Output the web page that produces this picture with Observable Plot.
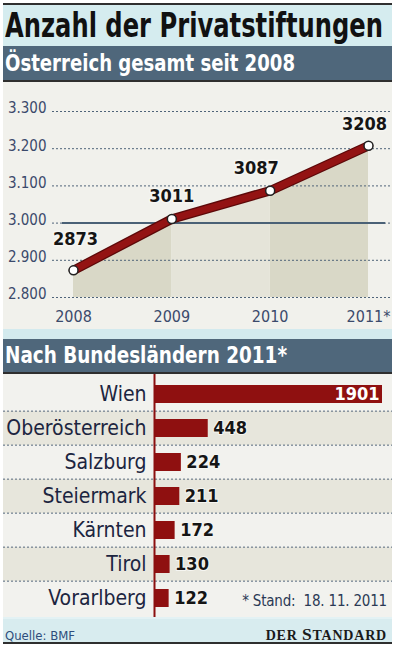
<!DOCTYPE html>
<html>
<head>
<meta charset="utf-8">
<script src="https://cdn.jsdelivr.net/npm/d3@7"></script>
<script src="https://cdn.jsdelivr.net/npm/@observablehq/plot@0.6"></script>
<style>
  body { margin: 0; background: #fff; }
  #graphic {
    position: absolute; left: 3px; top: 3px; width: 389px;
    font-family: "DejaVu Sans Condensed", "DejaVu Sans", sans-serif;
    font-stretch: condensed;
  }
  .rule { height: 2px; background: #2f2f2f; }
  .title { height: 41px; background: #d5ecef; line-height: 41px; font-size: 34px; font-weight: bold; color: #111; padding-left: 2px; overflow: hidden; }
  .band { background: #4f677b; color: #fff; font-size: 23px; font-weight: bold; padding-left: 2px; overflow: hidden; }
  .fit { display: inline-block; white-space: nowrap; transform-origin: 0 50%; }
  .gap { height: 10px; background: #d3eaee; }
  .chart svg { display: block; }
  #bars-wrap { position: relative; }
  .note { position: absolute; right: 5px; top: 220px; font-size: 15px; line-height: 15px; color: #2b3a55; letter-spacing: -0.2px; }
  .footer { position: relative; height: 25px; background: #d8ecef; border-top: 2px solid #e3f2f4; box-sizing: border-box; }
  .source { position: absolute; left: 2px; top: 10px; font-size: 13px; line-height: 13px; color: #2e4d7c; }
  .brand { position: absolute; right: 5px; top: 7px; font-family: "Liberation Serif", "DejaVu Serif", serif; font-weight: bold; color: #1a1a1a; line-height: 17px; letter-spacing: 0.8px; }
</style>
</head>
<body>
<div id="graphic">
  <div class="rule"></div>
  <div class="title"><span class="fit" data-width="378">Anzahl der Privatstiftungen</span></div>
  <div class="band" style="height:34px;line-height:34px"><span class="fit" data-width="290">Österreich gesamt seit 2008</span></div>
  <div class="rule"></div>
  <div class="chart" id="line"></div>
  <div class="gap"></div>
  <div class="band" style="height:33px;line-height:33px"><span class="fit" data-width="282">Nach Bundesländern 2011*</span></div>
  <div class="rule"></div>
  <div class="chart" id="bars-wrap">
    <div id="bars"></div>
    <div class="note">* Stand:&nbsp; 18. 11. 2011</div>
  </div>
  <div class="footer">
    <div class="source">Quelle: BMF</div>
    <div class="brand"><span style="font-size:14px">DER </span><span style="font-size:17.5px">S</span><span style="font-size:14px">TANDARD</span></div>
  </div>
  <div class="rule"></div>
</div>
<script>
// Private foundations in Austria, total per year
const years = [2008, 2009, 2010, 2011];
const yearLabels = ["2008", "2009", "2010", "2011*"];
const totals = [2873, 3011, 3087, 3208];
const yTicks = [2800, 2900, 3000, 3100, 3200, 3300];
const referenceLevel = 3000;

// Foundations by federal state, 2011
const states = ["Wien", "Oberösterreich", "Salzburg", "Steiermark", "Kärnten", "Tirol", "Vorarlberg"];
const counts = [1901, 448, 224, 211, 172, 130, 122];

const font = '"DejaVu Sans Condensed", "DejaVu Sans", sans-serif';
const deFormat = d3.formatLocale({decimal: ",", thousands: ".", grouping: [3], currency: ["", " €"]}).format(",");

// ---- line chart ----
const series = years.map((year, i) => ({year, value: totals[i], label: yearLabels[i]}));
const segments = d3.range(series.length - 1).flatMap(i =>
  [series[i], series[i + 1]].map(d => ({...d, seg: i})));

const labelStyle = {
  x: "year", y: "value", text: d => String(d.value),
  fontSize: 18, fontWeight: "bold", fill: "#151515",
  stroke: "#f6f6f2", strokeWidth: 3
};

const dotted = {stroke: "#4f6479", strokeWidth: 1, strokeDasharray: "2,2"};

const line = Plot.plot({
  width: 389, height: 247,
  marginLeft: 70, marginRight: 24, marginTop: 29, marginBottom: 32,
  style: {background: "#f1f1ec", fontFamily: font, fontStretch: "condensed", color: "#3b4a6b", overflow: "visible"},
  x: {domain: [years[0], years[years.length - 1]], label: null},
  y: {domain: [yTicks[0], yTicks[yTicks.length - 1]], label: null},
  marks: [
    Plot.area(segments.filter(d => d.seg % 2 === 0), {x1: "year", y1: yTicks[0], y2: "value", z: "seg", fill: "#d9d8c7"}),
    Plot.area(segments.filter(d => d.seg % 2 === 1), {x1: "year", y1: yTicks[0], y2: "value", z: "seg", fill: "#e5e4d9"}),
    Plot.ruleY(yTicks, {...dotted, insetLeft: -21, insetRight: -24}),
    Plot.ruleY([referenceLevel], {stroke: "#4a6176", strokeWidth: 2, insetLeft: -11, insetRight: -17}),
    Plot.line(series, {x: "year", y: "value", stroke: "#5c0909", strokeWidth: 9.5, strokeLinejoin: "round"}),
    Plot.line(series, {x: "year", y: "value", stroke: "#931313", strokeWidth: 7, strokeLinejoin: "round"}),
    Plot.dot(series, {x: "year", y: "value", r: 4.5, fill: "#fff", stroke: "#222", strokeWidth: 1.5}),
    Plot.text(series, {...labelStyle, filter: (d, i) => i === 0, dx: 2, dy: -31}),
    Plot.text(series, {...labelStyle, filter: (d, i) => i === 1, dy: -23}),
    Plot.text(series, {...labelStyle, filter: (d, i) => i === 2, dx: -14, dy: -23}),
    Plot.text(series, {...labelStyle, filter: (d, i) => i === 3, dx: -4, dy: -21}),
    Plot.axisY({ticks: yTicks, tickSize: 0, tickPadding: 27, tickFormat: deFormat, fontSize: 15, dy: -3, label: null}),
    Plot.axisX({ticks: years, tickSize: 0, tickPadding: 13, tickFormat: d => yearLabels[years.indexOf(d)], fontSize: 16, label: null})
  ]
});
document.getElementById("line").append(line);

// ---- bar chart ----
const rows = states.map((state, i) => ({state, count: counts[i], i}));
const maxCount = d3.max(counts);
const barsHeight = 243;
const step = barsHeight / states.length;

const bars = Plot.plot({
  width: 389, height: barsHeight,
  marginLeft: 151, marginRight: 10, marginTop: 0, marginBottom: 0,
  style: {background: "#f2f2ee", fontFamily: font, fontStretch: "condensed", color: "#1c2540", overflow: "visible"},
  x: {domain: [0, maxCount], axis: null, label: null},
  y: {domain: states, padding: 0, axis: null, label: null},
  marks: [
    Plot.barX(rows.filter(d => d.i % 2 === 1), {y: "state", x1: 0, x2: maxCount, fill: "#e7e6dc", insetLeft: -151, insetRight: -10}),
    Plot.ruleY(states.slice(1), {y: d => d, dy: -step / 2, ...dotted, stroke: "#56697d", insetLeft: -151, insetRight: -10}),
    Plot.barX(rows, {y: "state", x: "count", fill: "#8f1010", insetTop: 8, insetBottom: 8}),
    Plot.ruleX([0], {stroke: "#8b0f0f", strokeWidth: 2}),
    Plot.text(rows.filter(d => d.count < maxCount), {y: "state", x: "count", text: d => String(d.count), textAnchor: "start", dx: 5, fontSize: 18, fontWeight: "bold", fill: "#151515", stroke: "#f6f6f2", strokeWidth: 2}),
    Plot.text(rows.filter(d => d.count === maxCount), {y: "state", x: "count", text: d => String(d.count), textAnchor: "end", dx: -3, fontSize: 18, fontWeight: "bold", fill: "#fff"}),
    Plot.axisY({tickSize: 0, tickPadding: 8, fontSize: 21, label: null})
  ]
});
document.getElementById("bars").append(bars);

// condensed headline type
document.querySelectorAll(".fit").forEach(el => {
  const w = el.getBoundingClientRect().width;
  el.style.transform = `scaleX(${+el.dataset.width / w})`;
});
</script>
</body>
</html>
